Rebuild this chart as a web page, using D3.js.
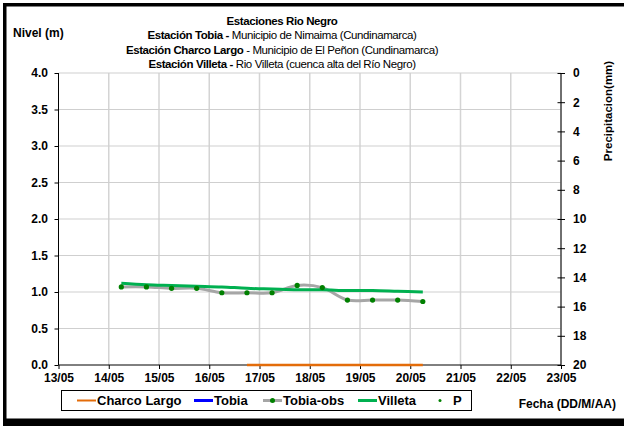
<!DOCTYPE html>
<html>
<head>
<meta charset="utf-8">
<script src="https://cdn.jsdelivr.net/npm/d3@7"></script>
<style>
  body { margin: 0; background: #fff; }
  svg { display: block; font-family: "Liberation Sans", Arial, sans-serif; }
</style>
</head>
<body>
<script>
// data (12-hourly readings, May)
var obs_times = ["14/05 06", "14/05 18", "15/05 06", "15/05 18", "16/05 06", "16/05 18", "17/05 06",
                 "17/05 18", "18/05 06", "18/05 18", "19/05 06", "19/05 18", "20/05 06"];
var tobia_obs = [1.07, 1.07, 1.05, 1.05, 0.99, 0.99, 0.99, 1.09, 1.06, 0.89, 0.89, 0.89, 0.87];
var villeta   = [1.12, 1.10, 1.09, 1.08, 1.07, 1.05, 1.04, 1.03, 1.03, 1.02, 1.02, 1.01, 1.00];
var charco_times = ["16/05 18", "17/05 06", "17/05 18", "18/05 06", "18/05 18", "19/05 06", "19/05 18", "20/05 06"];
var charco_largo = [0, 0, 0, 0, 0, 0, 0, 0];
var tobia = [];      // no data in the period
var precip = [];     // no data in the period
var level_ticks = [0, 0.5, 1, 1.5, 2, 2.5, 3, 3.5, 4];
var precip_ticks = [0, 2, 4, 6, 8, 10, 12, 14, 16, 18, 20];
var legend_names = ["Charco Largo", "Tobia", "Tobia-obs", "Villeta", "P"];

var W = 624, H = 426;
var margin = {left: 58.5, right: 63, top: 73, bottom: 61};
var parse_time = d3.utcParse("%d/%m %H");

var svg = d3.select("body").append("svg").attr("width", W).attr("height", H);

// outer frame (left, top, bottom)
svg.append("rect").attr("x", 3).attr("y", 3).attr("width", 3.5).attr("height", 420).attr("fill", "#000");
svg.append("rect").attr("x", 3).attr("y", 3).attr("width", 621).attr("height", 3.5).attr("fill", "#000");
svg.append("rect").attr("x", 3).attr("y", 418.5).attr("width", 621).attr("height", 7.5).attr("fill", "#000");

var x = d3.scaleUtc()
    .domain([parse_time("13/05 00"), parse_time("23/05 00")])
    .range([margin.left, W - margin.right]);
var y = d3.scaleLinear().domain([0, 4]).range([H - margin.bottom, margin.top]);
var y2 = d3.scaleLinear().domain([0, 20]).range([margin.top, H - margin.bottom]);

var day_ticks = d3.utcDay.range(parse_time("13/05 00"), d3.utcDay.offset(parse_time("23/05 00"), 1));

// gridlines
var grid = svg.append("g");
grid.selectAll(".vg").data(day_ticks.slice(1)).enter().append("line")
    .attr("x1", d => x(d)).attr("x2", d => x(d))
    .attr("y1", y(4)).attr("y2", y(0))
    .attr("stroke", "#d4d4d4").attr("stroke-width", 1.5);
grid.selectAll(".hg").data(level_ticks.slice(1)).enter().append("line")
    .attr("x1", x.range()[0]).attr("x2", x.range()[1])
    .attr("y1", d => y(d)).attr("y2", d => y(d))
    .attr("stroke", "#cfcfcf").attr("stroke-width", 1.2);

// axes
var tick_font = g => g.selectAll("text").style("font-size", "12px").style("font-weight", "bold").attr("fill", "#000");

svg.append("g").attr("transform", "translate(" + margin.left + ",0)")
    .call(d3.axisLeft(y).tickValues(level_ticks).tickFormat(d3.format(".1f")).tickSize(4).tickPadding(6.5))
    .call(g => g.select(".domain").attr("d", "M0," + y(4) + "V" + y(0)))
    .call(tick_font);

svg.append("g").attr("transform", "translate(0," + y(0) + ")")
    .call(d3.axisBottom(x).tickValues(day_ticks).tickFormat(d3.utcFormat("%d/%m")).tickSize(4).tickPadding(4))
    .call(g => g.select(".domain").attr("d", "M" + x.range()[0] + ",0H" + x.range()[1]))
    .call(tick_font);

var right_axis = svg.append("g").attr("transform", "translate(" + (W - margin.right) + ",0)")
    .call(d3.axisRight(y2).tickValues(precip_ticks).tickSize(4).tickPadding(8))
    .call(g => g.select(".domain").attr("d", "M0," + y2(0) + "V" + y2(20)))
    .call(tick_font);
right_axis.selectAll(".tick line").attr("x1", -3.5);

// series
var curve_line = d3.line().curve(d3.curveCatmullRom);
var obs_pts = obs_times.map((t, i) => [x(parse_time(t)), y(tobia_obs[i])]);
var vil_pts = obs_times.map((t, i) => [x(parse_time(t)), y(villeta[i])]);
var charco_pts = charco_times.map((t, i) => [x(parse_time(t)), y(charco_largo[i])]);

svg.append("path").attr("d", curve_line(charco_pts)).attr("fill", "none")
    .attr("stroke", "#e36c0a").attr("stroke-width", 2.5);
svg.append("path").attr("d", curve_line(obs_pts)).attr("fill", "none")
    .attr("stroke", "#a6a6a6").attr("stroke-width", 3);
svg.append("path").attr("d", curve_line(vil_pts)).attr("fill", "none")
    .attr("stroke", "#00b050").attr("stroke-width", 3);
svg.selectAll(".obs").data(obs_pts).enter().append("circle")
    .attr("cx", d => d[0]).attr("cy", d => d[1]).attr("r", 2.6).attr("fill", "#008000");

// titles
var title = svg.append("g").attr("text-anchor", "middle")
    .style("font-size", "11.5px").style("letter-spacing", "-0.4px").attr("fill", "#000");
title.append("text").attr("x", 282).attr("y", 25).style("font-weight", "bold").text("Estaciones Rio Negro");
var title_lines = [
    ["Estación Tobia - ", "Municipio de Nimaima (Cundinamarca)"],
    ["Estación Charco Largo", " - Municipio de El Peñon (Cundinamarca)"],
    ["Estación Villeta - ", " Rio Villeta (cuenca alta del Río Negro)"]
];
title_lines.forEach((l, i) => {
    var t = title.append("text").attr("x", 282).attr("y", 39.3 + i * 14.3);
    t.append("tspan").style("font-weight", "bold").text(l[0]);
    t.append("tspan").style("font-weight", "normal").text(l[1]);
});

svg.append("text").attr("x", 13).attr("y", 37).style("font-size", "12px").style("font-weight", "bold").text("Nivel (m)");
svg.append("text").attr("transform", "translate(611.5,111) rotate(-90)").attr("text-anchor", "middle")
    .style("font-size", "11.5px").style("font-weight", "bold").text("Precipitacion(mm)");
svg.append("text").attr("x", 616).attr("y", 408).attr("text-anchor", "end")
    .style("font-size", "12px").style("font-weight", "bold").text("Fecha (DD/M/AA)");

// legend
var legend = svg.append("g");
legend.append("rect").attr("x", 61.5).attr("y", 390.5).attr("width", 410).attr("height", 20)
    .attr("fill", "#fff").attr("stroke", "#000").attr("stroke-width", 1);
var legend_x = [77, 194, 263, 358, 432];
var legend_col = ["#e36c0a", "#0000ff", "#a6a6a6", "#00b050", null];
legend_names.forEach((n, i) => {
    var lx = legend_x[i];
    if (legend_col[i]) {
        legend.append("line").attr("x1", lx).attr("x2", lx + 19).attr("y1", 400.5).attr("y2", 400.5)
            .attr("stroke", legend_col[i]).attr("stroke-width", i == 0 ? 2 : 3);
    }
    if (n == "Tobia-obs" || n == "P") {
        legend.append("circle").attr("cx", n == "P" ? lx + 8 : lx + 9.5).attr("cy", 400.5)
            .attr("r", n == "P" ? 1.5 : 2.5).attr("fill", "#008000");
    }
    legend.append("text").attr("x", n == "P" ? lx + 21 : lx + 20).attr("y", 405)
        .style("font-size", "13px").style("font-weight", "bold").text(n);
});
</script>
</body>
</html>
